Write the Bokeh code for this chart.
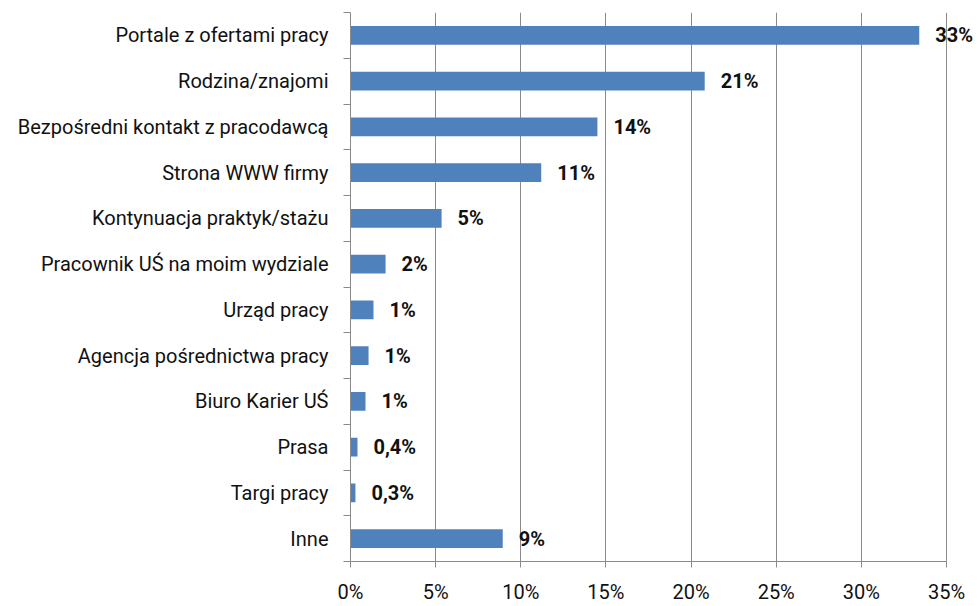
from bokeh.plotting import figure
from bokeh.models import Range1d, FixedTicker, ColumnDataSource, LabelSet
from bokeh.core.properties import value
from bokeh.embed import file_html
from bokeh.resources import INLINE

categories = ["Portale z ofertami pracy", "Rodzina/znajomi", "Bezpośredni kontakt z pracodawcą",
              "Strona WWW firmy", "Kontynuacja praktyk/stażu", "Pracownik UŚ na moim wydziale",
              "Urząd pracy", "Agencja pośrednictwa pracy", "Biuro Karier UŚ", "Prasa",
              "Targi pracy", "Inne"]
values = [33.4, 20.8, 14.5, 11.2, 5.35, 2.06, 1.35, 1.06, 0.88, 0.41, 0.29, 8.94]
value_labels = ["33%", "21%", "14%", "11%", "5%", "2%", "1%", "1%", "1%", "0,4%", "0,3%", "9%"]
x_ticks = [0, 5, 10, 15, 20, 25, 30, 35]
x_tick_labels = ["0%", "5%", "10%", "15%", "20%", "25%", "30%", "35%"]

n = len(categories)
ypos = [n - i - 0.5 for i in range(n)]

FONT = "Roboto"
GRAY = "#8a8a8a"

# frame spans to the right edge so the last value label is not clipped;
# the axis and grid are bounded to 0..35
x_max = 35 * 628 / 596

p = figure(width=978, height=606, output_backend="svg", toolbar_location=None,
           x_range=Range1d(0, x_max), y_range=Range1d(0, n),
           min_border_left=350, min_border_right=0, min_border_top=12, min_border_bottom=37)
p.outline_line_color = None
p.background_fill_color = "white"

src = ColumnDataSource(dict(y=ypos, v=values, lab=value_labels))
p.hbar(y="y", right="v", left=0, height=0.41, source=src, color="#4F81BD", line_color=None)
labels = LabelSet(x="v", y="y", text="lab", source=src, x_offset=16, text_baseline="middle",
                  text_align="left", text_font=value(FONT), text_font_style="bold",
                  text_font_size="20px", text_color="#111111")
p.add_layout(labels)

# x axis
p.xaxis.ticker = FixedTicker(ticks=x_ticks)
p.xaxis.bounds = (0, 35)
p.xaxis.major_label_overrides = {t: l for t, l in zip(x_ticks, x_tick_labels)}
p.xaxis.minor_tick_line_color = None
p.xaxis.major_tick_in = 0
p.xaxis.major_tick_out = 6
p.xaxis.major_tick_line_color = GRAY
p.xaxis.axis_line_color = GRAY
p.xaxis.major_label_standoff = 12
p.xaxis.major_label_text_font = FONT
p.xaxis.major_label_text_font_size = "20px"
p.xaxis.major_label_text_color = "#111111"

# y axis: labels at centers, ticks at boundaries
p.yaxis.ticker = FixedTicker(ticks=ypos, minor_ticks=list(range(n + 1)))
p.yaxis.major_label_overrides = {y: c for y, c in zip(ypos, categories)}
p.yaxis.major_tick_line_color = None
p.yaxis.major_tick_in = 0
p.yaxis.major_tick_out = 0
p.yaxis.minor_tick_in = 0
p.yaxis.minor_tick_out = 7
p.yaxis.minor_tick_line_color = GRAY
p.yaxis.axis_line_color = GRAY
p.yaxis.major_label_standoff = 15
p.yaxis.major_label_text_font = FONT
p.yaxis.major_label_text_font_size = "20px"
p.yaxis.major_label_text_color = "#111111"

p.xgrid.ticker = FixedTicker(ticks=x_ticks)
p.xgrid.grid_line_color = GRAY
p.xgrid.grid_line_width = 1
p.ygrid.grid_line_color = None

open("out.html", "w").write(file_html(p, INLINE))
